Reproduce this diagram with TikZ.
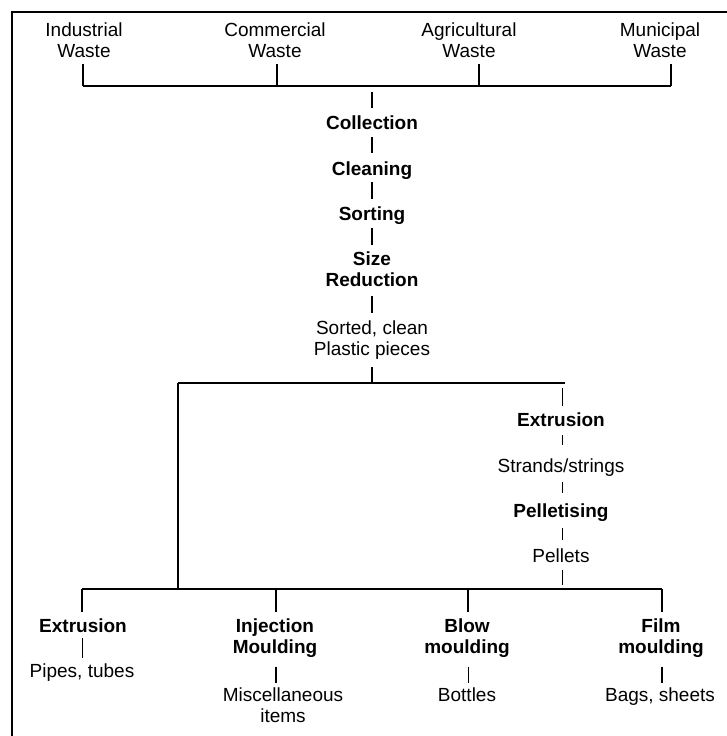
\documentclass[tikz,border=0pt]{standalone}
\usepackage{fontspec}
\setmainfont{Liberation Sans}
\usetikzlibrary{calc}
\begin{document}
\begin{tikzpicture}[x=1pt,y=-1pt,
  lbl/.style={font=\fontsize{19}{21.5}\selectfont, align=center, inner sep=0pt, anchor=base},
  blbl/.style={lbl, font=\fontsize{19}{21.5}\selectfont\bfseries},
  bus/.style={line width=1.1pt, draw=black},
  thinln/.style={line width=1pt, draw=black},
  thickln/.style={line width=2pt, draw=black},
  frame/.style={line width=2.3pt, draw=black}]
\useasboundingbox (0,0) rectangle (727,736);
% frame (left and top edges visible)
\coordinate (fA) at (12,737);
\coordinate (fB) at (12,12);
\coordinate (fC) at (728,12);
\draw[frame] (fA) -- (fB) -- (fC);

% sources (base anchor = last line baseline)
\node[lbl] (ind) at (84,57.5) {Industrial\\Waste};
\node[lbl] (com) at (275,57.5) {Commercial\\Waste};
\node[lbl] (agr) at (469,57.5) {Agricultural\\Waste};
\node[lbl] (mun) at (660,57.5) {Municipal\\Waste};
\coordinate (t1) at (83,86);
\coordinate (t2) at (277,86);
\coordinate (t3) at (479,86);
\coordinate (t4) at (671,86);
\coordinate (tm) at (372,86);
\draw[bus] (t1) -- (t4);
\foreach \t/\n in {t1/ind,t2/com,t3/agr,t4/mun}
  \draw[bus] (\t) -- ($(\t |- \n.south)+(0,6)$);

% main process
\node[blbl] (col) at (372,129) {Collection};
\node[blbl] (cle) at (372,175) {Cleaning};
\node[blbl] (sor) at (372,220) {Sorting};
\node[blbl] (siz) at (372,286.5) {Size\\Reduction};
\node[lbl] (pcs) at (372,355.5) {Sorted, clean\\Plastic pieces};
\draw[thickln] ($(tm)+(0,6)$) -- ($(col.north)+(0,-7)$);
\draw[thickln] ($(col.south)+(0,8)$) -- ($(cle.north)+(0,-8)$);
\draw[thickln] ($(cle.south)+(0,3)$) -- ($(sor.north)+(0,-7)$);
\draw[thickln] ($(sor.south)+(0,4)$) -- ($(siz.north)+(0,-6)$);
\draw[thickln] ($(siz.south)+(0,9.5)$) -- ($(pcs.north)+(0,-7)$);
\coordinate (bl) at (178,383);
\coordinate (bm) at (372,383);
\coordinate (br) at (565,383);
\coordinate (rb) at (562,383);
\draw[thickln] ($(pcs.south)+(0,7.5)$) -- (bm);
\draw[bus] (bl) -- (br);

% pelletising branch
\node[blbl] (rext) at (561,426) {Extrusion};
\node[lbl] (str) at (561,472) {Strands/strings};
\node[blbl] (pel) at (561,517) {Pelletising};
\node[lbl] (pts) at (561,562) {Pellets};
\draw[thinln] ($(rb)+(0,5)$) -- ($(rb |- rext.north)+(0,-6)$);
\draw[thinln] ($(rb |- rext.south)+(0,9)$) -- ($(rb |- str.north)+(0,-13)$);
\draw[thinln] ($(rb |- str.south)+(0,6)$) -- ($(rb |- pel.north)+(0,-10)$);
\draw[thinln] ($(rb |- pel.south)+(0,7)$) -- ($(rb |- pts.north)+(0,-8)$);
\coordinate (rbb) at (562,589);
\draw[thinln] ($(rb |- pts.south)+(0,8)$) -- ($(rbb)+(0,-4)$);

% bottom bus
\coordinate (bx) at (178,589);
\coordinate (b1) at (82,589);
\coordinate (b2) at (276,589);
\coordinate (b3) at (468,589);
\coordinate (b4) at (662,589);
\draw[bus] (bl) -- (bx);
\draw[bus] (b1) -- (b4);

% products
\node[blbl] (bext) at (83,632) {Extrusion};
\node[lbl] (pip) at (82,677) {Pipes, tubes};
\node[blbl] (inj) at (275,653.5) {Injection\\Moulding};
\node[lbl] (mis) at (283,722.5) {Miscellaneous\\items};
\node[blbl] (blo) at (467,653.5) {Blow\\moulding};
\node[lbl] (bot) at (467,701) {Bottles};
\node[blbl] (fil) at (661,653.5) {Film\\moulding};
\node[lbl] (bag) at (660,701) {Bags, sheets};
\foreach \b/\n in {b1/bext,b2/inj,b3/blo,b4/fil}
  \draw[bus] (\b) -- ($(\b |- \n.north)+(0,-6)$);
\draw[thinln] ($(b1 |- bext.south)+(0,6)$) -- ($(b1 |- pip.north)+(0,-5)$);
\draw[thickln] ($(b2 |- inj.south)+(0,9)$) -- ($(b2 |- mis.north)+(0,-4)$);
\draw[thinln] ($(b3 |- blo.south)+(0,9)$) -- ($(b3 |- bot.north)+(0,-4)$);
\draw[thickln] ($(b4 |- fil.south)+(0,9)$) -- ($(b4 |- bag.north)+(0,-4)$);
\end{tikzpicture}
\end{document}
